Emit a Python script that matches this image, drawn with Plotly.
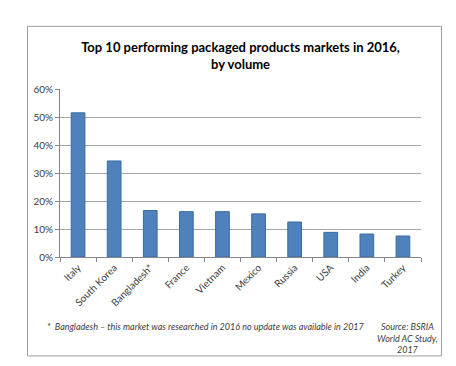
import plotly.graph_objects as go

markets = ["Italy", "South Korea", "Bangladesh*", "France", "Vietnam",
           "Mexico", "Russia", "USA", "India", "Turkey"]
share = [0.515, 0.343, 0.166, 0.162, 0.162, 0.154, 0.125, 0.088, 0.082, 0.075]
y_ticks = [0, 0.1, 0.2, 0.3, 0.4, 0.5, 0.6]
y_tick_labels = ["0%", "10%", "20%", "30%", "40%", "50%", "60%"]

W, H = 456, 366
L, R, T, B = 52, 413, 80.5, 249.5

def px_x(x):
    return (x - L) / (R - L)

def px_y(y):
    return (B - y) / (B - T)

FONT = "Lato, Carlito, Calibri, sans-serif"

fig = go.Figure(go.Bar(
    x=markets, y=share,
    marker=dict(color="#4f81bd", line=dict(color="#3b6aa0", width=1)),
))

fig.update_layout(
    width=W, height=H,
    margin=dict(l=L, r=W - R, t=T, b=H - B, autoexpand=False),
    paper_bgcolor="white", plot_bgcolor="white",
    bargap=0.62,
    showlegend=False,
    font=dict(family=FONT, color="#404040", size=10),
    title=dict(
        text="<b>Top 10 performing packaged products markets in 2016,<br>by volume</b>",
        x=0.5, xref="paper", xanchor="center",
        y=1 - 44 / H, yref="container", yanchor="middle",
        font=dict(family=FONT, size=13, color="#000000"),
    ),
    xaxis=dict(
        type="category", tickson="boundaries", ticks="outside", ticklen=4,
        tickcolor="#868686", showline=True, linecolor="#868686", linewidth=1,
        tickangle=-45, showgrid=False, tickfont=dict(size=10, color="#404040"),
    ),
    yaxis=dict(
        range=[0, 0.6], tickvals=y_ticks, ticktext=y_tick_labels,
        ticks="outside", ticklen=4, tickcolor="#868686",
        showline=True, linecolor="#868686", linewidth=1,
        showgrid=True, gridcolor="#a6a6a6", gridwidth=1,
        zeroline=False, tickfont=dict(size=10, color="#404040"),
    ),
)

fig.add_shape(type="rect", xref="paper", yref="paper",
              x0=px_x(19.5), x1=px_x(433.5), y0=px_y(349), y1=px_y(17.5),
              line=dict(color="#a0a0a0", width=1), layer="below")

fig.add_annotation(
    xref="paper", yref="paper", x=px_x(37), y=px_y(319),
    xanchor="left", yanchor="middle", showarrow=False, align="left",
    text="<i>*  Bangladesh – this market was researched in 2016 no update was available in 2017</i>",
    font=dict(family=FONT, size=9, color="#404040"),
)
fig.add_annotation(
    xref="paper", yref="paper", x=px_x(399), y=px_y(331),
    xanchor="center", yanchor="middle", showarrow=False, align="center",
    text="<i>Source: BSRIA<br>World AC Study,<br>2017</i>",
    font=dict(family=FONT, size=9, color="#404040"),
)

fig.write_html("out.html")
